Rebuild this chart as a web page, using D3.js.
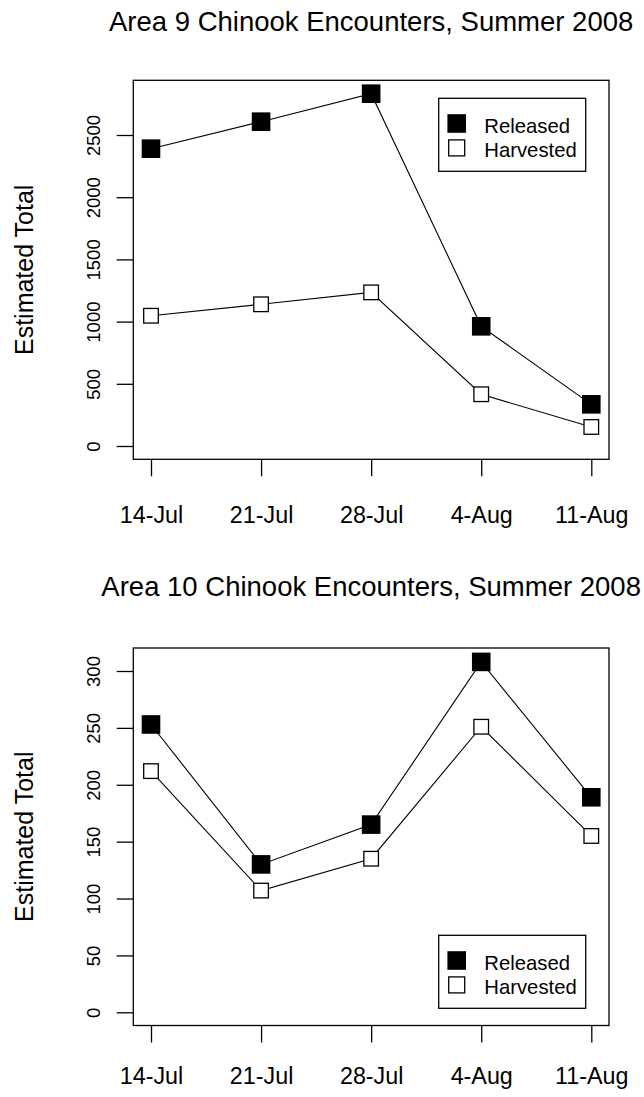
<!DOCTYPE html>
<html>
<head>
<meta charset="utf-8">
<script src="https://cdn.jsdelivr.net/npm/d3@7"></script>
<style>
  body { margin: 0; background: #fff; }
  svg { display: block; font-family: "Liberation Sans", Arial, sans-serif; }
</style>
</head>
<body>
<svg width="644" height="1097"></svg>
<script>
const svg = d3.select("svg");

// data
const weeks = ["14-Jul", "21-Jul", "28-Jul", "4-Aug", "11-Aug"];
const area9Released = [2390, 2607, 2832, 962, 335];
const area9Harvested = [1047, 1139, 1235, 416, 153];
const area10Released = [253, 130, 165, 308, 189];
const area10Harvested = [212, 107, 135, 251, 155];
const area9Ticks = [0, 500, 1000, 1500, 2000, 2500];
const area10Ticks = [0, 50, 100, 150, 200, 250, 300];
const seriesNames = ["Released", "Harvested"];

const boxLeft = 133.3, boxRight = 609;

const x = d3.scalePoint().domain(weeks).range([151, 591.3]);

function drawPanel(p) {
  const g = svg.append("g");
  const y = d3.scaleLinear().domain(p.yDomain).range(p.yRange);

  // title
  g.append("text")
    .attr("x", (boxLeft + boxRight) / 2)
    .attr("y", p.titleY)
    .attr("text-anchor", "middle")
    .style("font-size", "27.5px")
    .text(p.title);

  // y axis
  const yAxis = g.append("g")
    .attr("transform", `translate(${boxLeft},0)`)
    .call(d3.axisLeft(y).tickValues(p.ticks).tickSize(16.6).tickFormat(d3.format("d")));
  yAxis.select(".domain").remove();
  yAxis.selectAll(".tick line").attr("stroke", "#000").attr("stroke-width", 1.3);
  yAxis.selectAll(".tick text")
    .attr("transform", "rotate(-90)")
    .attr("x", 0).attr("y", -33.6).attr("dy", 0)
    .attr("text-anchor", "middle")
    .attr("fill", "#000")
    .style("font-size", "18.5px")
    .style("font-family", "'Liberation Sans', Arial, sans-serif");

  // x axis
  const xAxis = g.append("g")
    .attr("transform", `translate(0,${p.boxBottom})`)
    .call(d3.axisBottom(x).tickSize(17));
  xAxis.select(".domain").remove();
  xAxis.selectAll(".tick line").attr("stroke", "#000").attr("stroke-width", 1.3);
  xAxis.selectAll(".tick text")
    .attr("y", p.xLabOffset).attr("dy", 0)
    .attr("fill", "#000")
    .style("font-size", "23.3px")
    .style("font-family", "'Liberation Sans', Arial, sans-serif");

  // y label
  g.append("text")
    .attr("transform", `translate(33,${(p.boxTop + p.boxBottom) / 2}) rotate(-90)`)
    .attr("text-anchor", "middle")
    .style("font-size", "25px")
    .text("Estimated Total");

  // plot box
  g.append("rect")
    .attr("x", boxLeft).attr("y", p.boxTop)
    .attr("width", boxRight - boxLeft).attr("height", p.boxBottom - p.boxTop)
    .attr("fill", "none").attr("stroke", "#000").attr("stroke-width", 1.3);

  const line = d3.line().x((d, i) => x(weeks[i])).y(d => y(d));

  [p.harvested, p.released].forEach(vals => {
    g.append("path")
      .datum(vals)
      .attr("d", line)
      .attr("fill", "none")
      .attr("stroke", "#000")
      .attr("stroke-width", 1.1);
  });

  // harvested: open squares
  g.selectAll(".harv").data(p.harvested).enter().append("rect")
    .attr("class", "harv")
    .attr("x", (d, i) => x(weeks[i]) - 7.3)
    .attr("y", d => y(d) - 7.3)
    .attr("width", 14.6).attr("height", 14.6)
    .attr("fill", "#fff").attr("stroke", "#000").attr("stroke-width", 1.3);

  // released: filled squares
  g.selectAll(".rel").data(p.released).enter().append("rect")
    .attr("class", "rel")
    .attr("x", (d, i) => x(weeks[i]) - 9.3)
    .attr("y", d => y(d) - 9.3)
    .attr("width", 18.6).attr("height", 18.6)
    .attr("fill", "#000");

  // legend
  const lg = g.append("g").attr("transform", `translate(438.7,${p.legendTop})`);
  lg.append("rect")
    .attr("width", 147).attr("height", 73)
    .attr("fill", "#fff").attr("stroke", "#000").attr("stroke-width", 1.3);
  seriesNames.forEach((name, i) => {
    const cy = 25.2 + i * 24.4;
    if (i === 0) {
      lg.append("rect").attr("x", 18 - 9.3).attr("y", cy - 9.3)
        .attr("width", 18.6).attr("height", 18.6).attr("fill", "#000");
    } else {
      lg.append("rect").attr("x", 18 - 8).attr("y", cy - 8)
        .attr("width", 16).attr("height", 16)
        .attr("fill", "#fff").attr("stroke", "#000").attr("stroke-width", 1.3);
    }
    lg.append("text")
      .attr("x", 45.6).attr("y", cy + 9.6)
      .style("font-size", "20.3px")
      .text(name);
  });
}

drawPanel({
  title: "Area 9 Chinook Encounters, Summer 2008",
  titleY: 31,
  boxTop: 80.3, boxBottom: 459.3,
  yDomain: [0, 2500], yRange: [446, 135],
  ticks: area9Ticks,
  xLabOffset: 64,
  released: area9Released, harvested: area9Harvested,
  legendTop: 98.3
});

drawPanel({
  title: "Area 10 Chinook Encounters, Summer 2008",
  titleY: 595.5,
  boxTop: 648, boxBottom: 1025.5,
  yDomain: [0, 300], yRange: [1012.3, 671],
  ticks: area10Ticks,
  xLabOffset: 58,
  released: area10Released, harvested: area10Harvested,
  legendTop: 935.3
});
</script>
</body>
</html>
